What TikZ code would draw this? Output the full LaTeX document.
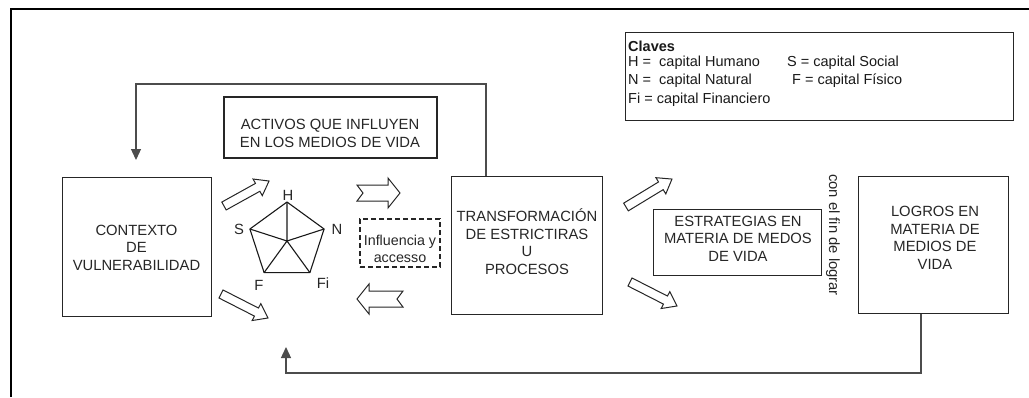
\documentclass[tikz,border=0pt]{standalone}
\usepackage{fontspec}
\setmainfont{Liberation Sans}
\usetikzlibrary{arrows.meta,calc}
\newcommand{\simplearrow}[4]{%
  \begin{scope}[shift={(#1,#2)},rotate=#3]
    \draw[hollow] (0,-4.5)--({#4-13},-4.5)--({#4-13},-9.5)--(#4,0)--({#4-13},9.5)--({#4-13},4.5)--(0,4.5)--cycle;
  \end{scope}}
\newcommand{\notcharrow}[4]{%
  \begin{scope}[shift={(#1,#2)},rotate=#3]
    \draw[hollow] (0,-8)--({#4-12},-8)--({#4-12},-15)--(#4,0)--({#4-12},15)--({#4-12},8)--(0,8)--(6,0)--cycle;
  \end{scope}}
\begin{document}
\begin{tikzpicture}[x=1pt,y=-1pt,
  box/.style={draw=black!85,line width=1pt,rectangle,inner sep=0pt},
  lbl/.style={align=center,text=black!85,font=\fontsize{14.8}{17.5}\selectfont,inner sep=0pt},
  small/.style={text=black!90,font=\fontsize{14.5}{17}\selectfont,inner sep=0pt,anchor=west},
  hollow/.style={draw=black!85,line width=1pt,fill=white,line join=miter},
  fback/.style={draw=black!70,line width=1.3pt},
  tip/.style={-{Triangle[width=10pt,length=11pt]}},
  web/.style={draw=black!90,line width=1.1pt,line join=round}]
\useasboundingbox (0,0) rectangle (1029,397);
% outer frame
\coordinate (fa) at (11,397);
\coordinate (fb) at (11,9);
\coordinate (fc) at (1029,9);
\draw[line width=2.5pt,black] (fa)--(fb)--(fc);

% boxes
\node[box,line width=1.3pt,minimum width=213pt,minimum height=61pt] (activos) at (330.5,127.5) {};
\node[lbl] (activosT) at (330,133.5) {ACTIVOS QUE INFLUYEN\\EN LOS MEDIOS DE VIDA};

\node[box,minimum width=149pt,minimum height=139pt] (contexto) at (136.5,246.5) {};
\node[lbl] (contextoT) at (136.5,247.5) {CONTEXTO\\DE\\VULNERABILIDAD};

\node[box,minimum width=151pt,minimum height=138pt] (trans) at (526.5,245) {};
\node[lbl] (transT) at (527,241.5) {TRANSFORMACIÓN\\DE ESTRICTIRAS\\U\\PROCESOS};

\node[box,line width=0.8pt,minimum width=168pt,minimum height=66pt] (estr) at (737,242) {};
\node[lbl] (estrT) at (738,238.5) {ESTRATEGIAS EN\\MATERIA DE MEDOS\\DE VIDA};

\node[box,minimum width=150pt,minimum height=137pt] (logros) at (933,244.5) {};
\node[lbl] (logrosT) at (935,238) {LOGROS EN\\MATERIA DE\\MEDIOS DE\\VIDA};

\node[box,minimum width=388pt,minimum height=88pt] (claves) at (819,76) {};
\node[small,font=\fontsize{14.5}{17}\selectfont\bfseries] (kt) at (628,46) {Claves};
\node[small] (kh) at (628,63) {H =\ \ capital Humano};
\node[small] (ks) at (787,63) {S = capital Social};
\node[small] (kn) at (628,80.5) {N =\ \ capital Natural};
\node[small] (kf) at (792,80.5) {F = capital Físico};
\node[small] (kfi) at (628,99.5) {Fi = capital Financiero};

\node[draw=black!85,dashed,dash pattern=on 5pt off 3pt,line width=1.2pt,minimum width=80pt,minimum height=48pt,inner sep=0pt] (infl) at (400,243) {};
\node[lbl,font=\fontsize{14.3}{17}\selectfont] (inflT) at (400,249) {Influencia y\\accesso};

\node[lbl,rotate=-90] (confin) at (833,235) {con el fin de lograr};

% pentagon
\coordinate (pc) at (287,241);
\coordinate (pH) at (287,202);
\coordinate (pN) at (324.1,229);
\coordinate (pFi) at (309.9,272.6);
\coordinate (pF) at (264.1,272.6);
\coordinate (pS) at (249.9,229);
\draw[web] (pH)--(pN)--(pFi)--(pF)--(pS)--cycle;
\draw[web] (pc)--(pH) (pc)--(pN) (pc)--(pFi) (pc)--(pF) (pc)--(pS);
\node[lbl] (lH) at (288,195) {H};
\node[lbl] (lS) at (239,229) {S};
\node[lbl] (lN) at (337,229) {N};
\node[lbl] (lF) at (259,285) {F};
\node[lbl] (lFi) at (323,283) {Fi};

% hollow arrows
\simplearrow{224}{206}{29}{51.5}
\simplearrow{221}{294}{-27}{52.8}
\simplearrow{626}{207}{31.3}{53.8}
\simplearrow{630}{282}{-27}{52.8}
\notcharrow{357}{193}{0}{43}
\notcharrow{403}{299}{180}{46}

% feedback loops
\coordinate (tx) at (486,0);
\coordinate (topc) at (136,84);
\coordinate (topin) at (136,160);
\draw[fback,tip] (trans.north -| tx) |- (topc) -- (topin);
\coordinate (bx) at (921,0);
\coordinate (botc) at (286,373);
\coordinate (botin) at (286,347);
\draw[fback,tip] (logros.south -| bx) |- (botc) -- (botin);
\end{tikzpicture}
\end{document}
